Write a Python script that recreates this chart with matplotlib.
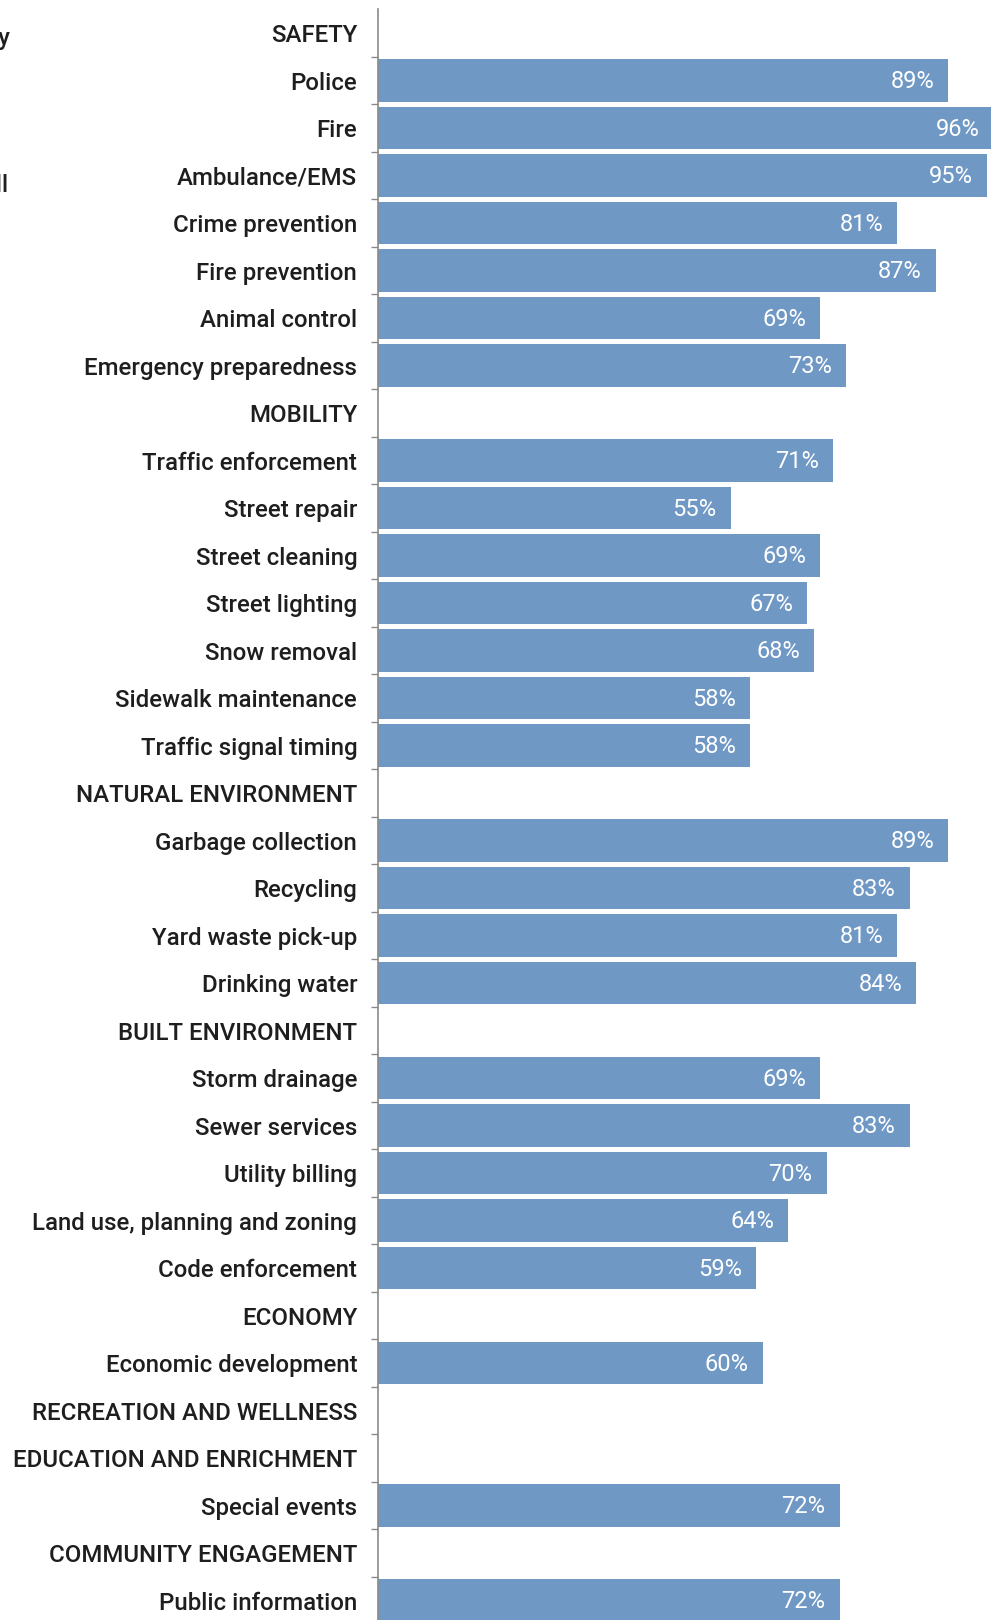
import matplotlib.pyplot as plt
from matplotlib.ticker import FixedLocator

# Service ratings, top to bottom; section headers have no value
labels = [
    "SAFETY", "Police", "Fire", "Ambulance/EMS", "Crime prevention",
    "Fire prevention", "Animal control", "Emergency preparedness",
    "MOBILITY", "Traffic enforcement", "Street repair", "Street cleaning",
    "Street lighting", "Snow removal", "Sidewalk maintenance",
    "Traffic signal timing",
    "NATURAL ENVIRONMENT", "Garbage collection", "Recycling",
    "Yard waste pick-up", "Drinking water",
    "BUILT ENVIRONMENT", "Storm drainage", "Sewer services",
    "Utility billing", "Land use, planning and zoning", "Code enforcement",
    "ECONOMY", "Economic development",
    "RECREATION AND WELLNESS",
    "EDUCATION AND ENRICHMENT", "Special events",
    "COMMUNITY ENGAGEMENT", "Public information",
]
values = [
    None, 89, 96, 95, 81, 87, 69, 73,
    None, 71, 55, 69, 67, 68, 58, 58,
    None, 89, 83, 81, 84,
    None, 69, 83, 70, 64, 59,
    None, 60,
    None,
    None, 72,
    None, 72,
]

bar_color = "#6f98c5"
text_color = "#1e1e1e"
font = "Roboto"

W, H = 991, 1620
fig = plt.figure(figsize=(W / 100, H / 100), dpi=100)
ax_left = 378 / W
ax_top = 9.25 / H
ax = fig.add_axes([ax_left, 0, 1 - ax_left, 1 - ax_top])

n = len(labels)
ys = list(range(n))
for y, v in zip(ys, values):
    if v is None:
        continue
    ax.barh(y, v, height=0.9, color=bar_color, edgecolor="none")
    ax.text(v - 2.2, y + 0.03, f"{v}%", ha="right", va="center",
            color="white", fontsize=17, family=font)

ax.set_xlim(0, (W - 378) / 6.41)
ax.set_ylim(33.41, -0.5)

# labels sit on the rows, small ticks mark the row boundaries
ax.set_yticks(ys)
ax.set_yticklabels(labels, family=font, fontsize=17.3, fontweight="medium",
                   color=text_color)
ax.tick_params(axis="y", which="major", length=0, pad=15)
ax.yaxis.set_minor_locator(FixedLocator([y + 0.5 for y in ys]))
ax.tick_params(axis="y", which="minor", length=5, width=1, color="#8a8a8a")
ax.set_xticks([])

for side in ("top", "right", "bottom"):
    ax.spines[side].set_visible(False)
ax.spines["left"].set_color("#8a8a8a")
ax.spines["left"].set_linewidth(1.2)

# clipped text from the neighbouring column
fig.text(11 / W, 1 - 38 / H, "Quality", ha="right", va="center",
         family=font, fontsize=17.3, fontweight="medium", color=text_color)
fig.text(9 / W, 1 - 186 / H, "Overall", ha="right", va="center",
         family=font, fontsize=17.3, fontweight="medium", color=text_color)

fig.savefig("out.png", dpi=100, facecolor="white")
